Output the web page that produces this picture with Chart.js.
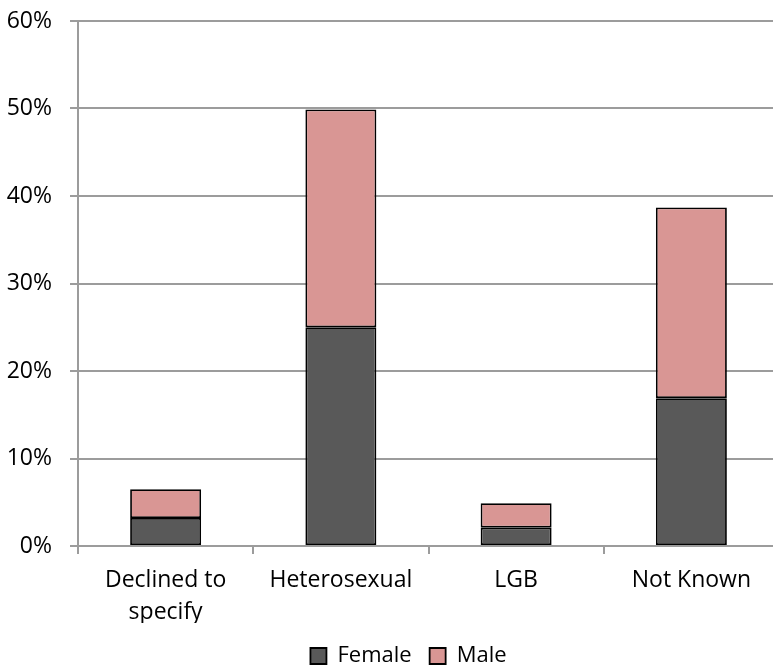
<!DOCTYPE html>
<html>
<head>
<meta charset="utf-8">
<script src="https://cdn.jsdelivr.net/npm/chart.js@4/dist/chart.umd.min.js"></script>
<style>
  html, body { margin: 0; padding: 0; background: #fff; overflow: hidden; }
  #wrap { width: 816px; height: 668px; }
</style>
</head>
<body>
<div id="wrap"><canvas id="orientationChart"></canvas></div>
<script>
// Categories and series (percent of total)
const categories = [["Declined to", "specify"], "Heterosexual", "LGB", "Not Known"];
const femaleValues = [3.2, 25.0, 2.1, 16.9];
const maleValues = [3.3, 24.9, 2.8, 21.8];
const yTicks = [0, 10, 20, 30, 40, 50, 60];

const fontFamily = "'Open Sans', sans-serif";
const gridColor = "#9c9c9c";

const ctx = document.getElementById("orientationChart").getContext("2d");
let orientationChart = new Chart(ctx, {
  type: "bar",
  data: {
    labels: categories,
    datasets: [
      {
        label: "Female",
        data: femaleValues,
        backgroundColor: "#595959",
        borderColor: "#000000",
        borderWidth: 1.8,
        borderSkipped: false,
      },
      {
        label: "Male",
        data: maleValues,
        backgroundColor: "#d99694",
        borderColor: "#000000",
        borderWidth: 1.8,
        borderSkipped: false,
      },
    ],
  },
  options: {
    responsive: true,
    maintainAspectRatio: false,
    animation: false,
    layout: { padding: { top: 21, right: 37, left: 0, bottom: 0 } },
    datasets: { bar: { categoryPercentage: 1, barPercentage: 0.405 } },
    plugins: {
      tooltip: { enabled: false },
      legend: {
        position: "bottom",
        labels: {
          font: { family: fontFamily, size: 22 },
          color: "#000",
          boxWidth: 16,
          boxHeight: 16,
          padding: 18,
          useBorderRadius: false,
        },
      },
    },
    scales: {
      x: {
        stacked: true,
        offset: true,
        afterFit(scale) {
          scale.height = 77;
          scale.paddingLeft = 0;
          scale.paddingRight = 0;
        },
        ticks: {
          font: { family: fontFamily, size: 23, lineHeight: 1.4 },
          color: "#000",
          maxRotation: 0,
          minRotation: 0,
          padding: 10,
        },
        grid: {
          offset: true,
          drawOnChartArea: false,
          drawTicks: true,
          tickLength: 8,
          color: gridColor,
          lineWidth: 2,
        },
        border: { color: gridColor, width: 2 },
      },
      y: {
        stacked: true,
        min: 0,
        max: 60,
        afterFit(scale) {
          scale.width = 78;
          scale.paddingTop = 0;
          scale.paddingBottom = 0;
        },
        afterBuildTicks(scale) {
          scale.ticks = yTicks.map((v) => ({ value: v }));
        },
        ticks: {
          font: { family: fontFamily, size: 23 },
          color: "#000",
          padding: 18,
          callback: (v) => v + "%",
        },
        grid: {
          color: gridColor,
          lineWidth: 2,
          tickLength: 8,
        },
        border: { color: gridColor, width: 2 },
      },
    },
  },
  plugins: [
    {
      // keep the legend box short and nudge it right/down
      id: "legendPlacement",
      beforeInit(chart) {
        const fitValue = chart.legend.fit;
        chart.legend.fit = function fit() {
          fitValue.bind(chart.legend)();
          this.height = 45;
        };
      },
      afterLayout(chart) {
        const legend = chart.legend;
        legend.left += 19;
        legend.right += 19;
        legend.top += 4;
        legend.bottom += 4;
      },
    },
  ],
});
</script>
</body>
</html>
